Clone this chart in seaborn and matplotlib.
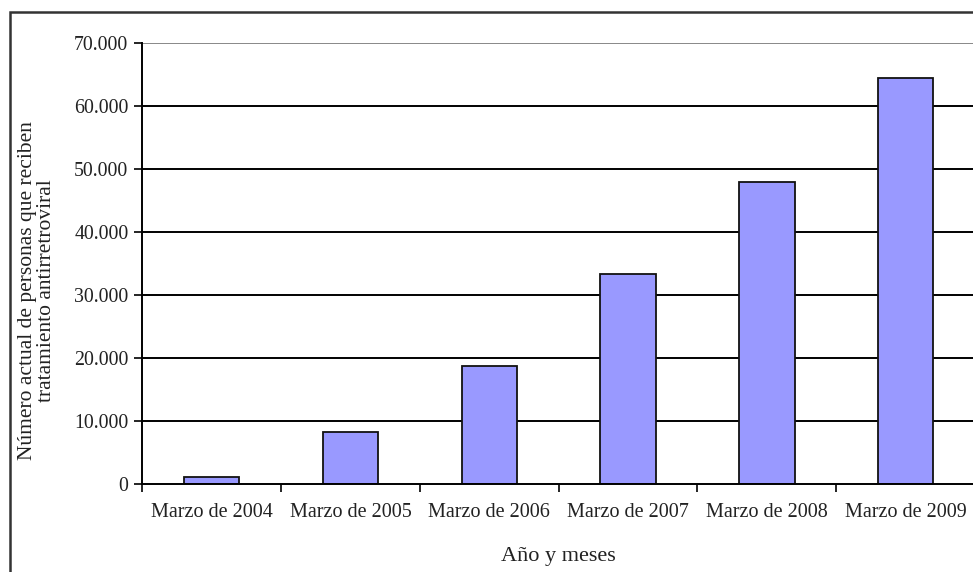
import matplotlib
matplotlib.use("Agg")
import matplotlib.pyplot as plt
from matplotlib.patches import Rectangle
from matplotlib.ticker import FuncFormatter, FixedLocator
import seaborn as sns
import pandas as pd

# ── data ───────────────────────────────────────────────────────────────
periods = ["Marzo de 2004", "Marzo de 2005", "Marzo de 2006",
           "Marzo de 2007", "Marzo de 2008", "Marzo de 2009"]
patients = [1100, 8200, 18800, 33300, 47950, 64450]
y_ticks = [0, 10000, 20000, 30000, 40000, 50000, 60000, 70000]

df = pd.DataFrame({"periodo": periods, "personas": patients})

sns.set_style("white")
plt.rcParams["font.family"] = ["Liberation Serif", "DejaVu Serif"]
plt.rcParams["font.size"] = 14

fig = plt.figure(figsize=(9.73, 5.72), dpi=100)
# axes runs slightly past the right edge, like the cropped original
ax = fig.add_axes([0.1463, 0.1538, 0.8558, 0.7715])

# gridlines first so bars sit on top
for v in y_ticks[1:-1]:
    ax.axhline(v, color="black", lw=1.4, zorder=0)
ax.axhline(y_ticks[-1], color="#888888", lw=1.4, zorder=0)

sns.barplot(data=df, x="periodo", y="personas", color="#9999FF",
            saturation=1, width=0.4, edgecolor="#111111", linewidth=1.3,
            ax=ax, zorder=2)

ax.set_xlim(-0.5, len(periods) - 0.5)
ax.set_ylim(0, 70000)
ax.set_yticks(y_ticks)
ax.yaxis.set_major_formatter(FuncFormatter(lambda v, _: f"{int(v):,}".replace(",", ".")))

# category labels centred, tick marks on the category boundaries
ax.set_xticks(range(len(periods)))
ax.set_xticklabels(periods)
ax.xaxis.set_minor_locator(FixedLocator([i - 0.5 for i in range(len(periods) + 1)]))
ax.tick_params(axis="x", which="major", bottom=True, length=0, pad=14, labelsize=14.5)
ax.tick_params(axis="x", which="minor", bottom=True, length=6, width=1.2,
               color="black", direction="out")
ax.tick_params(axis="y", which="major", left=True, length=6, width=1.2,
               color="black", direction="out", pad=4, labelsize=14.3)
ax.tick_params(axis="both", labelcolor="#222222")

for side in ["top", "right"]:
    ax.spines[side].set_visible(False)
for side in ["left", "bottom"]:
    ax.spines[side].set_color("black")
    ax.spines[side].set_linewidth(1.4)

ax.set_xlabel("")
ax.set_ylabel("")
fig.text(37 / 973, 1 - 291 / 572,
         "Número actual de personas que reciben\ntratamiento antirretroviral",
         rotation=90, ha="center", va="center", fontsize=15.5, linespacing=0.97,
         color="#222222")
fig.text(558 / 973, 1 - 557 / 572, "Año y meses", ha="center", va="center",
         fontsize=16, color="#222222")

# outer chart frame (cropped at right and bottom in the original)
fig.patches.append(Rectangle((10 / 973, -0.05), 1.0, 1 - 12 / 572 + 0.05,
                             transform=fig.transFigure, fill=False,
                             edgecolor="#333333", linewidth=1.8))

fig.savefig("out.png", dpi=100)
plt.close()
